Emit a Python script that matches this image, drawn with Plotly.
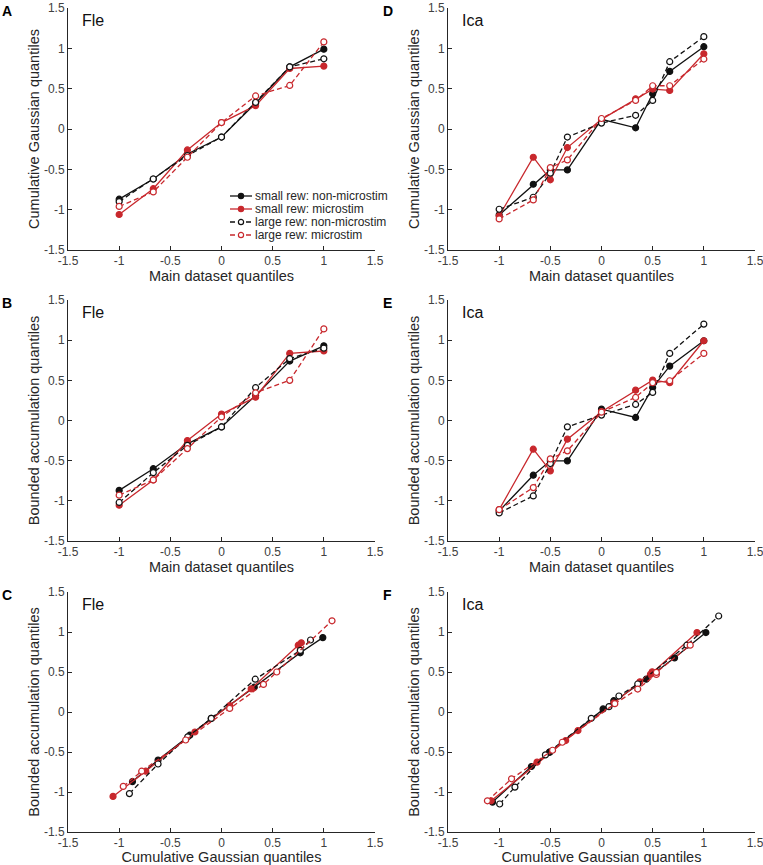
import plotly.graph_objects as go

# ---------------- data ----------------
fle_x = [-1, -2/3, -1/3, 0, 1/3, 2/3, 1]
ica_x = [-1, -2/3, -0.5, -1/3, 0, 1/3, 0.5, 2/3, 1]

# Fle: cumulative Gaussian quantiles (panel A)
fle_cg_small_non = [-0.87, -0.62, -0.31, -0.10, 0.32, 0.77, 0.99]
fle_cg_small_mic = [-1.06, -0.74, -0.26, 0.08, 0.29, 0.75, 0.78]
fle_cg_large_non = [-0.90, -0.62, -0.33, -0.10, 0.33, 0.77, 0.87]
fle_cg_large_mic = [-0.96, -0.78, -0.35, 0.08, 0.41, 0.54, 1.08]

# Fle: bounded accumulation quantiles (panel B)
fle_ba_small_non = [-0.87, -0.60, -0.29, -0.08, 0.31, 0.74, 0.93]
fle_ba_small_mic = [-1.055, -0.74, -0.25, 0.08, 0.29, 0.835, 0.865]
fle_ba_large_non = [-1.02, -0.65, -0.31, -0.08, 0.41, 0.77, 0.90]
fle_ba_large_mic = [-0.93, -0.74, -0.35, 0.045, 0.345, 0.50, 1.14]

# Ica: cumulative Gaussian quantiles (panel D)
ica_cg_small_non = [-1.065, -0.685, -0.507, -0.507, 0.12, 0.015, 0.437, 0.714, 1.02]
ica_cg_small_mic = [-1.078, -0.35, -0.63, -0.23, 0.12, 0.375, 0.495, 0.478, 0.933]
ica_cg_large_non = [-0.995, -0.846, -0.548, -0.10, 0.073, 0.17, 0.354, 0.834, 1.145]
ica_cg_large_mic = [-1.115, -0.879, -0.478, -0.383, 0.13, 0.354, 0.536, 0.536, 0.867]

# Ica: bounded accumulation quantiles (panel E)
ica_ba_small_non = [-1.126, -0.681, -0.502, -0.502, 0.141, 0.038, 0.41, 0.677, 0.993]
ica_ba_small_mic = [-1.11, -0.357, -0.627, -0.232, 0.11, 0.378, 0.503, 0.47, 0.993]
ica_ba_large_non = [-1.15, -0.939, -0.536, -0.079, 0.067, 0.20, 0.35, 0.835, 1.20]
ica_ba_large_mic = [-1.11, -0.835, -0.478, -0.378, 0.104, 0.287, 0.47, 0.495, 0.835]

series_names = ["small rew: non-microstim", "small rew: microstim",
                "large rew: non-microstim", "large rew: microstim"]
tick_vals = [-1.5, -1, -0.5, 0, 0.5, 1, 1.5]
tick_text = ["-1.5", "-1", "-0.5", "0", "0.5", "1", "1.5"]

# ---------------- styling ----------------
BLACK = "#111111"
RED = "#c8282d"
AX = "#262626"
FONT = "Liberation Sans, Arial, sans-serif"
W, H = 763, 865

styles = [
    dict(color=BLACK, dash="solid", filled=True),
    dict(color=RED, dash="solid", filled=True),
    dict(color=BLACK, dash="dash", filled=False),
    dict(color=RED, dash="dash", filled=False),
]

fig = go.Figure()

panels = [
    (1, [fle_x] * 4,
     [fle_cg_small_non, fle_cg_small_mic, fle_cg_large_non, fle_cg_large_mic],
     "Fle", "Main dataset quantiles", "Cumulative Gaussian quantiles", "A"),
    (2, [ica_x] * 4,
     [ica_cg_small_non, ica_cg_small_mic, ica_cg_large_non, ica_cg_large_mic],
     "Ica", "Main dataset quantiles", "Cumulative Gaussian quantiles", "D"),
    (3, [fle_x] * 4,
     [fle_ba_small_non, fle_ba_small_mic, fle_ba_large_non, fle_ba_large_mic],
     "Fle", "Main dataset quantiles", "Bounded accumulation quantiles", "B"),
    (4, [ica_x] * 4,
     [ica_ba_small_non, ica_ba_small_mic, ica_ba_large_non, ica_ba_large_mic],
     "Ica", "Main dataset quantiles", "Bounded accumulation quantiles", "E"),
    (5, [fle_cg_small_non, fle_cg_small_mic, fle_cg_large_non, fle_cg_large_mic],
     [fle_ba_small_non, fle_ba_small_mic, fle_ba_large_non, fle_ba_large_mic],
     "Fle", "Cumulative Gaussian quantiles", "Bounded accumulation quantiles", "C"),
    (6, [ica_cg_small_non, ica_cg_small_mic, ica_cg_large_non, ica_cg_large_mic],
     [ica_ba_small_non, ica_ba_small_mic, ica_ba_large_non, ica_ba_large_mic],
     "Ica", "Cumulative Gaussian quantiles", "Bounded accumulation quantiles", "F"),
]

# pixel geometry of plot areas
col_px = [(68, 375), (448, 755)]
row_px = [(8, 250), (300, 541), (592, 832)]
title_standoff = [1, 1, 3]

layout_axes = {}
annotations = []
shapes = []
for idx, xs, ys, subj, xt, yt, letter in panels:
    col = (idx - 1) % 2
    row = (idx - 1) // 2
    x0, x1 = col_px[col]
    y0, y1 = row_px[row]
    xd = [x0 / W, x1 / W]
    yd = [1 - y1 / H, 1 - y0 / H]
    sfx = "" if idx == 1 else str(idx)
    common = dict(range=[-1.5, 1.5], tickmode="array", tickvals=tick_vals,
                  ticktext=tick_text, showgrid=False, zeroline=False,
                  showline=True, linecolor=AX, linewidth=1,
                  ticks="inside", ticklen=4, tickcolor=AX, tickwidth=1,
                  tickfont=dict(family=FONT, size=12, color="#404040"),
                  ticklabeloverflow="allow",
                  mirror=False, fixedrange=True, automargin=False)
    layout_axes["xaxis" + sfx] = dict(
        common, domain=xd, anchor="y" + sfx,
        title=dict(text=xt, font=dict(family=FONT, size=14.5, color=AX),
                   standoff=title_standoff[row]))
    layout_axes["yaxis" + sfx] = dict(
        common, domain=yd, anchor="x" + sfx,
        title=dict(text=yt, font=dict(family=FONT, size=14.5, color=AX), standoff=0))
    for k in range(4):
        st = styles[k]
        fig.add_trace(go.Scatter(
            x=xs[k], y=ys[k], mode="lines+markers",
            xaxis="x" + sfx, yaxis="y" + sfx,
            name=series_names[k], showlegend=False,
            line=dict(color=st["color"], width=1.3,
                      dash="5px,3px" if st["dash"] == "dash" else "solid"),
            marker=dict(symbol="circle", size=6,
                        color=st["color"] if st["filled"] else "white",
                        line=dict(color=st["color"], width=1.2)),
            cliponaxis=False,
        ))
    annotations.append(dict(text=subj, xref="x" + sfx + " domain", yref="y" + sfx + " domain",
                            x=0.04, y=0.99, xanchor="left", yanchor="top", showarrow=False,
                            font=dict(family=FONT, size=16, color="#111111")))
    annotations.append(dict(text="<b>" + letter + "</b>", xref="paper", yref="paper",
                            x=(0 if col == 0 else 381) / W, y=1 - (y0 - 7) / H,
                            xanchor="left", yanchor="top", showarrow=False,
                            font=dict(family=FONT, size=14, color="#000000")))

# ---------- manual legend (panel A, lower right) ----------
leg_x0, leg_x1, leg_txt = 230, 252, 253
leg_rows = [196, 209, 222, 235]
for k, yy in enumerate(leg_rows):
    st = styles[k]
    yp = 1 - yy / H
    shapes.append(dict(type="line", xref="paper", yref="paper",
                       x0=leg_x0 / W, x1=leg_x1 / W, y0=yp, y1=yp,
                       line=dict(color=st["color"], width=1.3,
                                 dash="5px,3px" if st["dash"] == "dash" else "solid")))
    cx = (leg_x0 + leg_x1) / 2
    shapes.append(dict(type="circle", xref="paper", yref="paper",
                       x0=(cx - 2.6) / W, x1=(cx + 2.6) / W,
                       y0=yp - 2.6 / H, y1=yp + 2.6 / H,
                       fillcolor=st["color"] if st["filled"] else "white",
                       line=dict(color=st["color"], width=1.2)))
    annotations.append(dict(text=series_names[k], xref="paper", yref="paper",
                            x=leg_txt / W, y=yp, xanchor="left", yanchor="middle",
                            showarrow=False,
                            font=dict(family=FONT, size=12, color=AX)))

fig.update_layout(
    width=W, height=H,
    margin=dict(l=0, r=0, t=0, b=0),
    paper_bgcolor="white", plot_bgcolor="white",
    showlegend=False,
    annotations=annotations,
    shapes=shapes,
    **layout_axes,
)

fig.write_html("out.html", config={"displayModeBar": False},
               post_script="document.body.style.margin='0px';document.body.style.padding='0px';")
